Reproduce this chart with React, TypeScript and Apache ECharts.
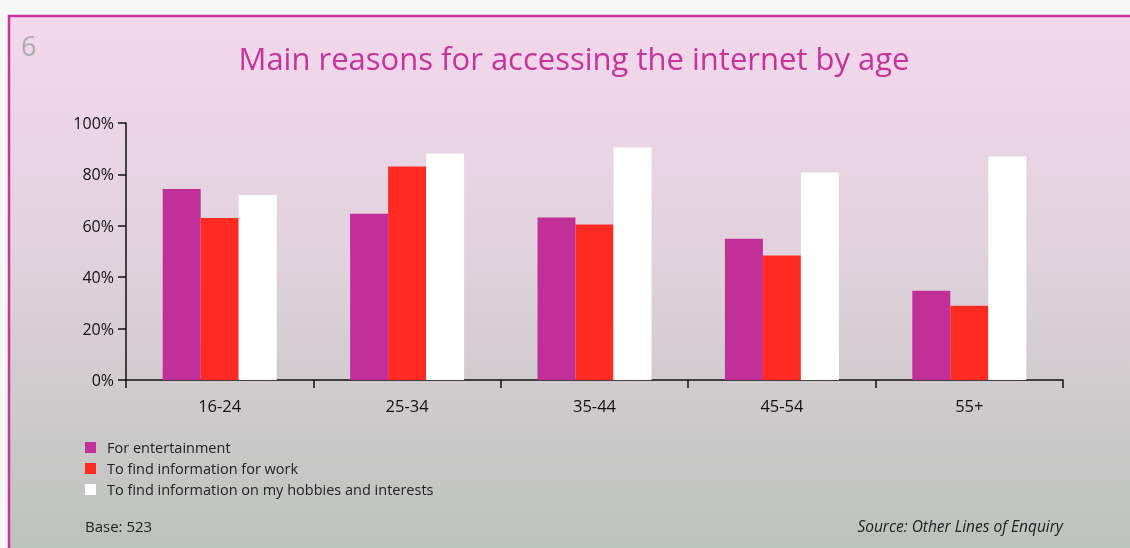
import React, { useEffect, useRef } from "react";
import * as echarts from "echarts";

const categories = ["16-24", "25-34", "35-44", "45-54", "55+"];
const entertainment = [74.3, 64.7, 63.2, 55.0, 34.7];
const work = [63.0, 83.1, 60.5, 48.4, 28.9];
const hobbies = [72.0, 88.1, 90.5, 80.7, 87.0];
const seriesNames = [
  "For entertainment",
  "To find information for work",
  "To find information on my hobbies and interests",
];
const yTicks = [0, 20, 40, 60, 80, 100];
const titleText = "Main reasons for accessing the internet by age";
const pageNumber = "6";
const baseText = "Base: 523";
const sourceText = "Source: Other Lines of Enquiry";

const FONT = "'Open Sans', 'Noto Sans', sans-serif";

export default function App() {
  const ref = useRef<HTMLDivElement>(null);
  useEffect(() => {
    if (!ref.current) return;
    const chart = echarts.init(ref.current, null, { renderer: "svg" });
    chart.setOption({
      animation: false,
      textStyle: { fontFamily: FONT },
      graphic: [
        {
          type: "rect",
          z: -10,
          silent: true,
          shape: { x: 0, y: 0, width: 1130, height: 548 },
          style: { fill: "#f7f7f7" },
        },
        {
          type: "rect",
          z: -9,
          silent: true,
          shape: { x: 9, y: 16, width: 1130, height: 540 },
          style: {
            fill: new echarts.graphic.LinearGradient(0, 0, 0, 1, [
              { offset: 0, color: "#f4d7ec" },
              { offset: 0.45, color: "#e0d2dc" },
              { offset: 0.7, color: "#cfcbcd" },
              { offset: 1, color: "#bcc2bd" },
            ]),
            stroke: "#c8369e",
            lineWidth: 2.5,
          },
        },
        {
          type: "text",
          x: 21,
          y: 32,
          style: {
            text: pageNumber,
            fill: "#a8b0ab",
            font: `27px ${FONT}`,
          },
        },
        {
          type: "text",
          x: 574,
          y: 42,
          style: {
            text: titleText,
            fill: "#c8339b",
            font: `31px ${FONT}`,
            textAlign: "center",
          },
        },
        {
          type: "text",
          x: 85,
          y: 518,
          style: {
            text: baseText,
            fill: "#222222",
            font: `15px ${FONT}`,
          },
        },
        {
          type: "text",
          x: 1063,
          y: 518,
          style: {
            text: sourceText,
            fill: "#222222",
            font: `italic 15.5px ${FONT}`,
            textAlign: "right",
          },
        },
      ],
      legend: {
        orient: "vertical",
        left: 85,
        top: 440,
        padding: 0,
        itemWidth: 11,
        itemHeight: 11,
        itemGap: 6,
        icon: "rect",
        textStyle: {
          color: "#222222",
          fontSize: 14.5,
          fontFamily: FONT,
          padding: [0, 0, 0, 6],
        },
        data: seriesNames,
      },
      grid: { left: 126, right: 67, top: 123, bottom: 168, containLabel: false },
      xAxis: {
        type: "category",
        data: categories,
        axisLine: { show: true, lineStyle: { color: "#111111", width: 1.5 } },
        axisTick: { show: true, length: 8, lineStyle: { color: "#111111", width: 1.5 } },
        axisLabel: { color: "#111111", fontSize: 16.5, margin: 17, fontFamily: FONT },
      },
      yAxis: {
        type: "value",
        min: yTicks[0],
        max: yTicks[yTicks.length - 1],
        interval: 20,
        splitLine: { show: false },
        axisLine: { show: true, lineStyle: { color: "#111111", width: 1.5 } },
        axisTick: { show: true, length: 8, lineStyle: { color: "#111111", width: 1.5 } },
        axisLabel: {
          color: "#111111",
          fontSize: 16,
          margin: 12,
          fontFamily: FONT,
          formatter: "{value}%",
        },
      },
      series: [
        {
          name: seriesNames[0],
          type: "bar",
          data: entertainment,
          barWidth: 38,
          barGap: "0%",
          itemStyle: { color: "#c13098" },
        },
        {
          name: seriesNames[1],
          type: "bar",
          data: work,
          barWidth: 38,
          barGap: "0%",
          itemStyle: { color: "#ff2b22" },
        },
        {
          name: seriesNames[2],
          type: "bar",
          data: hobbies,
          barWidth: 38,
          barGap: "0%",
          itemStyle: { color: "#ffffff" },
        },
      ],
    });
    return () => chart.dispose();
  }, []);
  return (
    <div
      ref={ref}
      style={{ position: "fixed", left: 0, top: 0, width: 1130, height: 548 }}
    />
  );
}
